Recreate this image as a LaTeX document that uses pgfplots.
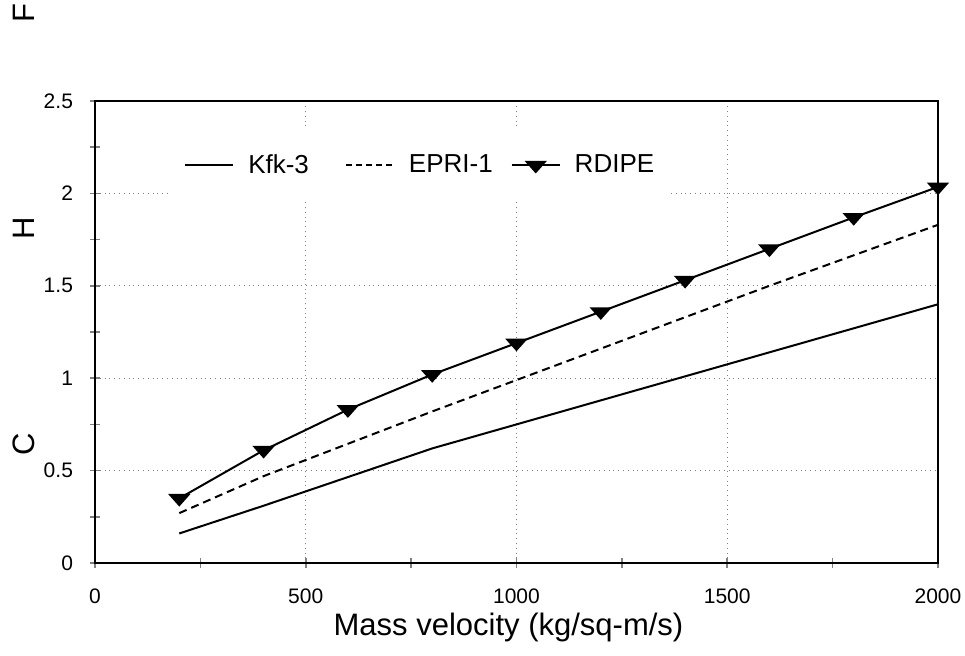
\documentclass[border=0pt]{standalone}
\usepackage{fontspec}
\setmainfont{Liberation Sans}
\usepackage{pgfplots}
\pgfplotsset{compat=1.18}
\begin{document}
\begin{tikzpicture}
\begin{axis}[
  scale only axis, width=421.5pt, height=231pt,
  xmin=0, xmax=2000, ymin=0, ymax=2.5,
  xtick={0,500,1000,1500,2000},
  ytick={0,0.5,1,1.5,2,2.5},
  minor x tick num=1, minor y tick num=1,
  xtick pos=bottom, ytick pos=left,
  tick align=center, major tick length=5pt, minor tick length=5pt,
  every tick/.style={gray, line width=0.8pt},
  axis line style={black, line width=0.8pt},
  grid=major, major grid style={gray, dotted, line width=0.6pt},
  ticklabel style={font=\fontsize{10.5}{12}\selectfont},
  xticklabel style={yshift=-7pt},
  yticklabel style={xshift=-5pt},
  /pgf/number format/assume math mode=true,
  /pgf/number format/set thousands separator={},
  xlabel={Mass velocity (kg/sq-m/s)},
  xlabel style={font=\fontsize{15.5}{17}\selectfont, at={(axis description cs:0.4905,0)}, anchor=base, yshift=-36pt},
  ylabel={C\hspace{97pt}H\hspace{97pt}F},
  ylabel style={font=\fontsize{15.5}{17}\selectfont, at={(axis description cs:-0.084,0.721)}, anchor=center},
  legend columns=3,
  legend style={draw=none, fill=white, at={(rel axis cs:0.387,0.861)}, anchor=center,
    font=\fontsize{13}{15}\selectfont, inner xsep=6pt, inner ysep=10pt,
    /tikz/column 1/.style={column sep=5pt},
    /tikz/column 2/.style={column sep=16pt},
    /tikz/column 3/.style={column sep=5pt},
    /tikz/column 4/.style={column sep=7pt},
    /tikz/column 5/.style={column sep=5pt}},
  legend image code/.code={\draw[mark repeat=2,mark phase=2,#1] plot coordinates {(0pt,0pt) (12pt,0pt) (24pt,0pt)};},
]
\addplot[black, line width=1pt] coordinates {
(200,0.16) (400,0.31) (600,0.465) (800,0.62) (1000,0.75) (1200,0.88) (1400,1.01) (1600,1.14) (1800,1.27) (2000,1.40)};
\addlegendentry{Kfk-3}
\addplot[black, line width=1pt, dash pattern=on 4pt off 2.5pt, legend image post style={dash pattern=on 3pt off 2pt}] coordinates {
(200,0.27) (400,0.47) (600,0.645) (800,0.82) (1000,0.99) (1200,1.16) (1400,1.33) (1600,1.50) (1800,1.665) (2000,1.83)};
\addlegendentry{EPRI-1}
\addplot[black, line width=1pt, mark=triangle*, mark size=5.2pt, mark options={solid, fill=black, rotate=180, yscale=0.65}] coordinates {
(200,0.35) (400,0.61) (600,0.83) (800,1.02) (1000,1.19) (1200,1.36) (1400,1.53) (1600,1.70) (1800,1.87) (2000,2.035)};
\addlegendentry{RDIPE}
\end{axis}
\pgfresetboundingbox
\path[use as bounding box] (current axis.south west) ++(-47.5pt,-46pt) rectangle ++(482.5pt,327.5pt);
\end{tikzpicture}
\end{document}
